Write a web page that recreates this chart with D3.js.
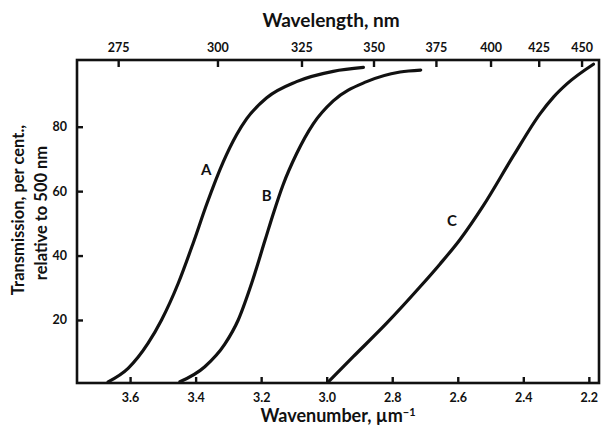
<!DOCTYPE html>
<html>
<head>
<meta charset="utf-8">
<script src="https://cdn.jsdelivr.net/npm/d3@7"></script>
<style>
  html, body { margin: 0; padding: 0; background: #fff; }
  svg { display: block; }
  text { font-family: Lato, "Open Sans", sans-serif; font-weight: 700; fill: #111; }
</style>
</head>
<body>
<svg id="chart" width="602" height="431"></svg>
<script>
// Transmission curves: [wavenumber (µm^-1), transmission (%)]
const curveA = [
  [3.667, 0.8], [3.606, 5], [3.545, 12.8], [3.504, 20], [3.453, 31.4], [3.407, 44],
  [3.366, 56], [3.316, 69], [3.275, 77.5], [3.244, 82.5], [3.183, 89], [3.092, 94],
  [2.980, 97.2], [2.888, 98.4]
];
const curveB = [
  [3.448, 0.8], [3.372, 5.5], [3.311, 12.5], [3.270, 20], [3.229, 31.4], [3.188, 44.8],
  [3.163, 53], [3.133, 62], [3.092, 71.6], [3.041, 80.9], [2.980, 88], [2.878, 94],
  [2.776, 97], [2.713, 97.6]
];
const curveC = [
  [2.995, 0.8], [2.919, 8.6], [2.817, 19], [2.715, 30.3], [2.654, 37.4], [2.593, 45],
  [2.522, 55.5], [2.430, 71], [2.349, 84], [2.308, 89.2], [2.267, 93.3], [2.186, 99.4]
];
const curveNames = ["A", "B", "C"];
// label anchor points [wavenumber, transmission]
const labelPoints = [[3.368, 66.8], [3.183, 58.8], [2.618, 51]];

const wavenumberTicks = [3.6, 3.4, 3.2, 3.0, 2.8, 2.6, 2.4, 2.2];
const wavelengthTicks = [275, 300, 325, 350, 375, 400, 425, 450];
const transmissionTicks = [20, 40, 60, 80];

const svg = d3.select("#chart");
const frame = { left: 77, top: 60, right: 599, bottom: 383 };

// wavenumber decreases to the right
const x = d3.scaleLinear().domain([3.762, 2.169]).range([frame.left, frame.right]);
const y = d3.scaleLinear().domain([0, 100]).range([384.4, 62.3]);

// frame
svg.append("rect")
  .attr("x", frame.left).attr("y", frame.top)
  .attr("width", frame.right - frame.left).attr("height", frame.bottom - frame.top)
  .attr("fill", "none").attr("stroke", "#111").attr("stroke-width", 2.6);

// bottom axis: wavenumber
const bottomAxis = d3.axisBottom(x).tickValues(wavenumberTicks)
  .tickFormat(d3.format(".1f")).tickSizeInner(-6).tickSizeOuter(0).tickPadding(10);
const gB = svg.append("g").attr("transform", `translate(0,${frame.bottom})`).call(bottomAxis);

// top axis: wavelength (nm) = 1000 / wavenumber
const topAxis = d3.axisTop(x).tickValues(wavelengthTicks.map(l => 1000 / l))
  .tickFormat((d, i) => wavelengthTicks[i]).tickSizeInner(-7).tickSizeOuter(0).tickPadding(8);
const gT = svg.append("g").attr("transform", `translate(0,${frame.top})`).call(topAxis);

// left axis: transmission
const leftAxis = d3.axisLeft(y).tickValues(transmissionTicks)
  .tickSizeInner(-6).tickSizeOuter(0).tickPadding(10);
const gL = svg.append("g").attr("transform", `translate(${frame.left},0)`).call(leftAxis);

[gB, gT, gL].forEach(g => {
  g.select(".domain").remove();
  g.selectAll(".tick line").attr("stroke", "#111").attr("stroke-width", 2.4);
  g.selectAll(".tick text").attr("font-size", 12.5).attr("font-family", "Lato, sans-serif")
    .attr("font-weight", 700).attr("fill", "#111");
});

// curves
const line = d3.line()
  .x(d => x(d[0])).y(d => y(d[1]))
  .curve(d3.curveMonotoneX);

[curveA, curveB, curveC].forEach(data => {
  svg.append("path").datum(data)
    .attr("d", line)
    .attr("fill", "none").attr("stroke", "#111")
    .attr("stroke-width", 3.2).attr("stroke-linecap", "round");
});

// curve labels
svg.selectAll(".curve-label").data(curveNames).enter().append("text")
  .attr("class", "curve-label")
  .attr("x", (d, i) => x(labelPoints[i][0]))
  .attr("y", (d, i) => y(labelPoints[i][1]))
  .attr("text-anchor", "middle").attr("dominant-baseline", "central")
  .attr("font-size", 15)
  .text(d => d);

// axis titles
svg.append("text").attr("x", 331).attr("y", 27).attr("text-anchor", "middle")
  .attr("font-size", 19).text("Wavelength, nm");

const bt = svg.append("text").attr("x", 338).attr("y", 422).attr("text-anchor", "middle")
  .attr("font-size", 18);
bt.append("tspan").text("Wavenumber, µm");
bt.append("tspan").attr("dy", -6).attr("font-size", 11).text("−1");

svg.append("text").attr("transform", "translate(24,210) rotate(-90)")
  .attr("text-anchor", "middle").attr("font-size", 16.5).text("Transmission, per cent.,");
svg.append("text").attr("transform", "translate(47,213) rotate(-90)")
  .attr("text-anchor", "middle").attr("font-size", 16.5).text("relative to 500 nm");
</script>
</body>
</html>
